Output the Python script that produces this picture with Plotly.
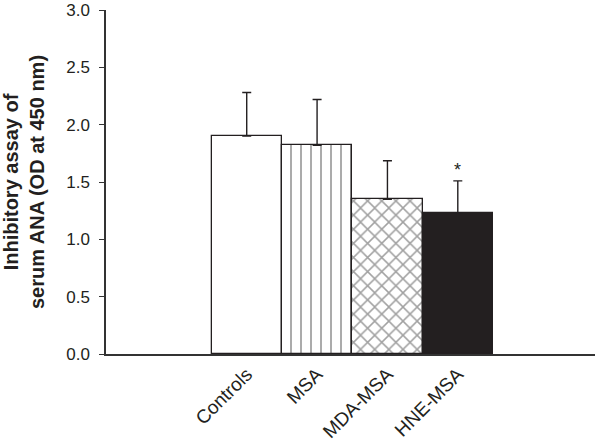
import plotly.graph_objects as go

groups = ['Controls', 'MSA', 'MDA-MSA', 'HNE-MSA']
means = [1.90, 1.82, 1.35, 1.23]
sd = [0.38, 0.40, 0.335, 0.28]
fills = ['white', 'white', 'white', '#231f20']
shapes = ['', '|', 'x', '']
y_ticks = [0, 0.5, 1.0, 1.5, 2.0, 2.5, 3.0]

fig = go.Figure()

fig.add_trace(go.Bar(
    x=groups, y=means,
    marker=dict(color=fills, line=dict(color='#231f20', width=1.3),
                pattern=dict(shape=shapes, size=10, solidity=[0, 0.18, 0.28, 0],
                             fgcolor='#231f20', bgcolor='white')),
    error_y=dict(type='data', array=sd, arrayminus=[0] * len(sd), symmetric=False,
                 color='#231f20', thickness=1.4, width=4.5),
    width=1.0, showlegend=False,
))

# significance marker above HNE-MSA
fig.add_annotation(x=groups[3], y=means[3] + sd[3], text='*', showarrow=False,
                   yanchor='bottom', yshift=-1, font=dict(size=18, color='#231f20'))

fig.update_layout(
    width=600, height=444,
    margin=dict(l=106, r=5, t=10, b=90),
    plot_bgcolor='white', paper_bgcolor='white',
    font=dict(family='Liberation Sans, Arial', color='#231f20'),
    bargap=0,
    xaxis=dict(range=[-2, 4.95], showline=True, linecolor='#333333', linewidth=1.5,
               ticks='', tickangle=-45, tickfont=dict(size=19), showgrid=False,
               automargin=False),
    yaxis=dict(range=[0, 3.0], tickvals=y_ticks, tickformat='.1f', showline=True,
               linecolor='#333333', linewidth=1.5, ticks='outside', ticklen=5,
               tickcolor='#333333', tickfont=dict(size=17), ticklabelstandoff=6,
               showgrid=False, zeroline=False, automargin=False,
               title=dict(text='<b>Inhibitory assay of<br>serum ANA (OD at 450 nm)</b>',
                          font=dict(size=20), standoff=20)),
)

# drop the default page margin so the figure sits at the window's corner
fig.write_html('out.html', config={'displayModeBar': False},
               post_script="document.body.style.margin='0';")
